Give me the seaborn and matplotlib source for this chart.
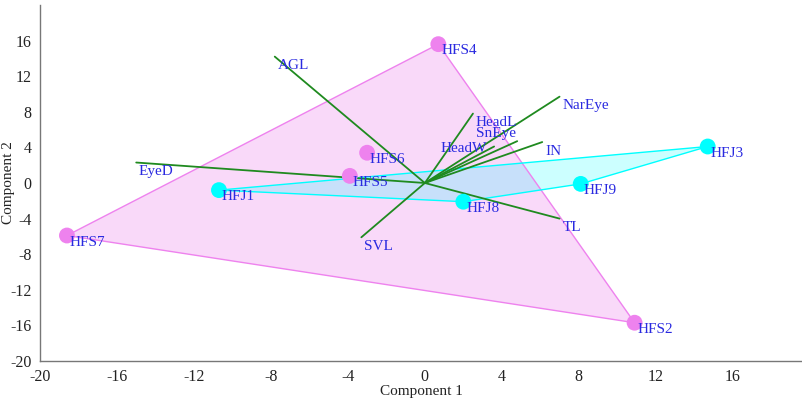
import numpy as np
import pandas as pd
import matplotlib
matplotlib.use("Agg")
import matplotlib.pyplot as plt
import seaborn as sns

# =====================================================
# DATA
# =====================================================

sample_names = ["HFS4", "HFS7", "HFS2", "HFS6", "HFS5",
                "HFJ1", "HFJ3", "HFJ9", "HFJ8"]
sample_groups = ["HFS", "HFS", "HFS", "HFS", "HFS",
                 "HFJ", "HFJ", "HFJ", "HFJ"]
comp1 = [0.7, -18.6, 10.9, -3.0, -3.9, -10.7, 14.7, 8.1, 2.0]
comp2 = [15.6, -5.9, -15.7, 3.4, 0.8, -0.8, 4.1, -0.1, -2.1]

var_names = ["AGL", "EyeD", "SVL", "TL", "HeadL",
             "HeadW", "SnEye", "IN", "NarEye"]
load1 = [-7.8, -15.0, -3.3, 7.0, 2.5, 3.6, 4.8, 6.1, 7.0]
load2 = [14.2, 2.3, -6.1, -4.0, 7.8, 4.1, 4.7, 4.6, 9.7]

x_ticks = [-20, -16, -12, -8, -4, 0, 4, 8, 12, 16]
y_ticks = [-20, -16, -12, -8, -4, 0, 4, 8, 12, 16]

df = pd.DataFrame({"name": sample_names, "group": sample_groups,
                   "c1": comp1, "c2": comp2})

group_colors = {"HFS": "violet", "HFJ": "cyan"}
fill_alpha = {"HFS": 0.3, "HFJ": 0.2}
text_blue = "#2a2ae0"

# label nudges (points) where the reference moves a label
label_nudge = {"HeadW": (-5, 3, "right"), "SnEye": (-30, 10, "left")}


def hull(pts):
    pts = sorted(set(pts))
    if len(pts) < 3:
        return pts

    def cross(o, a, b):
        return (a[0] - o[0]) * (b[1] - o[1]) - (a[1] - o[1]) * (b[0] - o[0])

    lower, upper = [], []
    for p in pts:
        while len(lower) >= 2 and cross(lower[-2], lower[-1], p) <= 0:
            lower.pop()
        lower.append(p)
    for p in reversed(pts):
        while len(upper) >= 2 and cross(upper[-2], upper[-1], p) <= 0:
            upper.pop()
        upper.append(p)
    return lower[:-1] + upper[:-1]


# =====================================================
# PLOT
# =====================================================

sns.set_style("white")
plt.rcParams["font.family"] = ["Liberation Serif", "DejaVu Serif"]
plt.rcParams["axes.unicode_minus"] = False

fig = plt.figure(figsize=(8.02, 3.99), dpi=100)
ax = fig.add_axes([40 / 802, 38 / 399, 762 / 802, 356 / 399])

# convex hulls
for grp in ["HFS", "HFJ"]:
    sub = df[df["group"] == grp]
    h = hull(list(zip(sub["c1"], sub["c2"])))
    hx = [p[0] for p in h]
    hy = [p[1] for p in h]
    ax.fill(hx, hy, facecolor=group_colors[grp], alpha=fill_alpha[grp],
            edgecolor="none", zorder=1)
    ax.plot(hx + [hx[0]], hy + [hy[0]], color=group_colors[grp],
            lw=1.0, zorder=2)

# biplot vectors
for name, lx, ly in zip(var_names, load1, load2):
    ax.plot([0, lx], [0, ly], color="#1f8a1f", lw=1.3, zorder=3)
    dx, dy, ha = label_nudge.get(name, (2, -2, "left"))
    ax.annotate(name, (lx, ly), xytext=(dx, dy), textcoords="offset points",
                ha=ha, va="top", color=text_blue, fontsize=11, zorder=5)

# samples
sns.scatterplot(data=df, x="c1", y="c2", hue="group", palette=group_colors,
                s=130, edgecolor="none", legend=False, ax=ax, zorder=4)

for _, r in df.iterrows():
    ax.annotate(r["name"], (r["c1"], r["c2"]), xytext=(2, 0),
                textcoords="offset points", ha="left", va="top",
                color=text_blue, fontsize=11, zorder=5)

ax.set_xlim(-20, 19.6)
ax.set_ylim(-20, 20)
ax.set_xticks(x_ticks)
ax.set_yticks(y_ticks)

for side in ["top", "right"]:
    ax.spines[side].set_visible(False)
for side in ["left", "bottom"]:
    ax.spines[side].set_color("#777777")
    ax.spines[side].set_linewidth(1.0)

ax.tick_params(axis="both", direction="out", length=4, width=1,
               color="#777777", labelsize=11.5, labelcolor="#222222", pad=2)
ax.tick_params(axis="x", pad=2)

ax.set_xlabel("Component 1", fontsize=11, color="#222222")
ax.xaxis.set_label_coords(0.5, -0.068)
ax.set_ylabel("Component 2", fontsize=11, color="#222222")
ax.yaxis.set_label_coords(-0.033, 0.5)

fig.savefig("out.png", dpi=100)
